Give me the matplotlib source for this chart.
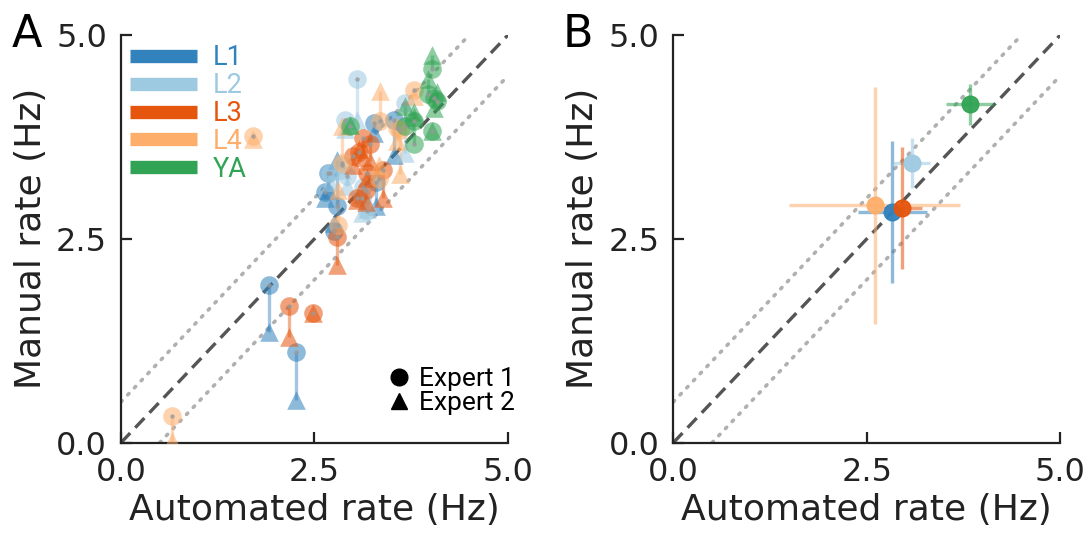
import matplotlib.pyplot as plt
from matplotlib.lines import Line2D
import numpy as np

# groups and colours
groups = ['L1', 'L2', 'L3', 'L4', 'YA']
colors = ['#3182bd', '#9ecae1', '#e6550d', '#fdae6b', '#31a354']

# panel A: automated rate and the two experts' manual rates, one list per group
auto = {
    'L1': [1.91, 2.26, 2.64, 2.68, 2.75, 2.79, 3.29, 3.27, 3.53],
    'L2': [3.05, 2.90, 2.70, 2.92, 3.13, 3.18, 3.11, 3.67, 2.85],
    'L3': [2.17, 2.48, 2.79, 3.00, 3.07, 3.13, 3.22, 3.18, 3.39, 3.05, 3.16],
    'L4': [0.66, 1.71, 2.81, 2.86, 3.35, 3.33, 3.61, 3.78, 3.57],
    'YA': [2.96, 4.02, 3.96, 4.04, 4.08, 4.02, 3.67, 3.78, 3.78],
}
expert1 = {
    'L1': [1.94, 1.11, 3.08, 3.31, 2.59, 2.90, 3.20, 3.92, 3.96],
    'L2': [4.46, 3.96, 3.31, 3.27, 3.14, 2.84, 3.00, 4.17, 3.40],
    'L3': [1.68, 1.59, 2.52, 3.51, 3.57, 3.74, 3.66, 3.31, 3.35, 3.00, 3.10],
    'L4': [0.33, 3.76, 2.67, 3.43, 3.95, 3.23, 3.84, 4.33, 3.86],
    'YA': [3.88, 4.58, 4.27, 4.23, 4.19, 3.82, 3.88, 3.66, 3.95],
}
expert2 = {
    'L1': [1.36, 0.52, 3.00, 3.10, 2.70, 3.47, 2.90, 3.80, 3.53],
    'L2': [3.96, 3.85, 3.20, 3.15, 3.05, 2.86, 2.82, 3.55, 3.35],
    'L3': [1.30, 1.59, 2.18, 3.40, 3.60, 3.50, 3.45, 3.25, 3.00, 2.98, 2.95],
    'L4': [0.02, 3.72, 3.10, 3.88, 4.31, 3.40, 3.29, 4.25, 3.70],
    'YA': [3.90, 4.76, 4.46, 4.10, 4.30, 3.82, 4.13, 4.05, 4.00],
}

# panel B: group means with spread
mean_auto = [2.83, 3.08, 2.96, 2.60, 3.83]
mean_manual = [2.83, 3.43, 2.88, 2.91, 4.15]
err_auto = [0.45, 0.24, 0.25, 1.10, 0.31]
err_manual = [0.87, 0.31, 0.75, 1.45, 0.25]

ticks = [0.0, 2.5, 5.0]

fig = plt.figure(figsize=(10.92, 5.33), dpi=100)
axA = fig.add_axes([0.1108, 0.1694, 0.3544, 0.765])
axB = fig.add_axes([0.6166, 0.1694, 0.3544, 0.765])


def style(ax):
    ax.plot([0, 5], [0, 5], ls=(0, (4, 2.2)), color='#555555', lw=2.4, zorder=1)
    ax.plot([0, 4.5], [0.5, 5], ls=(0, (0.5, 2.2)), color='#b0b0b0', lw=2.6,
            dash_capstyle='round', zorder=1)
    ax.plot([0.5, 5], [0, 4.5], ls=(0, (0.5, 2.2)), color='#b0b0b0', lw=2.6,
            dash_capstyle='round', zorder=1)
    ax.set_xlim(0, 5)
    ax.set_ylim(0, 5)
    ax.set_xticks(ticks)
    ax.set_yticks(ticks)
    ax.set_xticklabels(['%.1f' % t for t in ticks])
    ax.set_yticklabels(['%.1f' % t for t in ticks])
    ax.tick_params(direction='in', length=8, width=1.6, labelsize=23, pad=10,
                   colors='#222222')
    for s in ['top', 'right']:
        ax.spines[s].set_visible(False)
    for s in ['left', 'bottom']:
        ax.spines[s].set_linewidth(1.6)
        ax.spines[s].set_color('#222222')
    ax.set_xlabel('Automated rate (Hz)', fontsize=26, color='#222222', labelpad=4)
    ax.set_ylabel('Manual rate (Hz)', fontsize=26, color='#222222', labelpad=6)


style(axA)
style(axB)

# panel A
for g, c in zip(groups, colors):
    x = np.array(auto[g])
    y1 = np.array(expert1[g])
    y2 = np.array(expert2[g])
    axA.vlines(x, y1, y2, color=c, alpha=0.45, lw=2.4, zorder=2)
    axA.scatter(x, y1, s=180, marker='o', color=c, alpha=0.55, lw=0, zorder=3)
    axA.scatter(x, y2, s=180, marker='^', color=c, alpha=0.55, lw=0, zorder=3)
    axA.scatter(x, y1, s=10, marker='o', color='#999999', alpha=0.8, lw=0, zorder=4)

handles = [Line2D([], [], color=c, lw=9.6, solid_capstyle='butt') for c in colors]
leg = axA.legend(handles, groups, loc='upper left', bbox_to_anchor=(0.0, 1.0),
                 frameon=False, handlelength=2.44, handletextpad=0.59,
                 labelspacing=0.03, borderpad=0, borderaxespad=0.35,
                 prop={'family': 'Roboto', 'size': 19.5}, labelcolor='linecolor')
axA.add_artist(leg)

mhandles = [Line2D([], [], marker='o', color='k', ls='none', markersize=12),
            Line2D([], [], marker='^', color='k', ls='none', markersize=12)]
axA.legend(mhandles, ['Expert 1', 'Expert 2'], loc='lower right',
           bbox_to_anchor=(1.018, 0.068), frameon=False, handlelength=1.0,
           handletextpad=0.25, labelspacing=0.0, borderpad=0, borderaxespad=0,
           prop={'family': 'Roboto', 'size': 19})

# panel B
for i, c in enumerate(colors):
    axB.errorbar(mean_auto[i], mean_manual[i], xerr=err_auto[i], yerr=err_manual[i],
                 fmt='none', ecolor=c, elinewidth=2.4, alpha=0.55, zorder=2)
    axB.plot(mean_auto[i], mean_manual[i], 'o', color=c, markersize=12,
             alpha=0.95, zorder=3)

fig.text(0.011, 0.975, 'A', fontsize=32, va='top', ha='left')
fig.text(0.515, 0.975, 'B', fontsize=32, va='top', ha='left')

fig.savefig('out.png', dpi=100)
